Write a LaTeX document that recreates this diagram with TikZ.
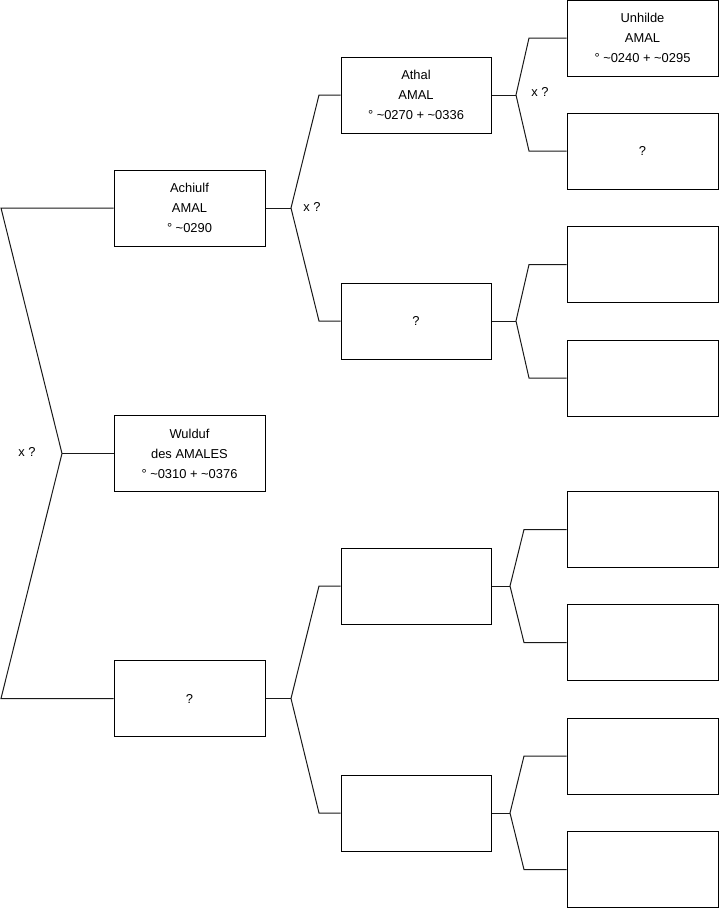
\documentclass[tikz,border=0pt]{standalone}
\usepackage{fontspec}
\setmainfont{Liberation Sans}
\begin{document}
\begin{tikzpicture}[x=1pt,y=-1pt,
  box/.style={draw=black,line width=1pt,minimum width=151pt,minimum height=76pt,inner sep=0pt,align=center,font=\fontsize{12.9}{20}\selectfont},
  conn/.style={draw=black!90,line width=1pt},
  lbl/.style={font=\fontsize{12.9}{20}\selectfont,inner sep=0pt}]
\useasboundingbox (0,0) rectangle (719,908);
% column 1
\node[box] (A) at (189.5,208) {Achiulf\\AMAL\\° \textasciitilde0290};
\node[box] (W) at (189.5,453.5) {Wulduf\\des AMALES\\° \textasciitilde0310 + \textasciitilde0376};
\node[box] (Q) at (189.5,698.5) {?};
% column 2
\node[box,minimum width=150pt] (At) at (416,95) {Athal\\AMAL\\° \textasciitilde0270 + \textasciitilde0336};
\node[box,minimum width=150pt] (Q2) at (416,321) {?};
\node[box,minimum width=150pt] (E1) at (416,586) {};
\node[box,minimum width=150pt] (E2) at (416,813) {};
% column 3
\node[box] (U) at (642.5,38) {Unhilde\\AMAL\\° \textasciitilde0240 + \textasciitilde0295};
\node[box] (R2) at (642.5,151) {?};
\node[box] (R3) at (642.5,264.5) {};
\node[box] (R4) at (642.5,378) {};
\node[box] (R5) at (642.5,529.5) {};
\node[box] (R6) at (642.5,642.5) {};
\node[box] (R7) at (642.5,756) {};
\node[box] (R8) at (642.5,869.5) {};
% left fork
\coordinate (L1) at (1,208);
\coordinate (L2) at (62,453.5);
\coordinate (L3) at (1,698.5);
\draw[conn] (A.west) -- (L1) -- (L2) -- (L3) -- (Q.west);
\draw[conn] (L2) -- (W.west);
\node[lbl] (x1) at (27,452) {x ?};
% fork from A
\coordinate (F1) at (291,208);
\coordinate (F1a) at (319,95);
\coordinate (F1b) at (319,321);
\draw[conn] (A.east) -- (F1);
\draw[conn] (At.west) -- (F1a) -- (F1) -- (F1b) -- (Q2.west);
\node[lbl] (x2) at (312,207) {x ?};
% fork from Q
\coordinate (F4) at (291,698.5);
\coordinate (F4a) at (319,586);
\coordinate (F4b) at (319,813);
\draw[conn] (Q.east) -- (F4);
\draw[conn] (E1.west) -- (F4a) -- (F4) -- (F4b) -- (E2.west);
% fork from Athal
\coordinate (F2) at (516,95);
\coordinate (F2a) at (529,38);
\coordinate (F2b) at (529,151);
\draw[conn] (At.east) -- (F2);
\draw[conn] (U.west) -- (F2a) -- (F2) -- (F2b) -- (R2.west);
\node[lbl] (x3) at (540,92) {x ?};
% fork from Q2
\coordinate (F3) at (516,321);
\coordinate (F3a) at (529,264.5);
\coordinate (F3b) at (529,378);
\draw[conn] (Q2.east) -- (F3);
\draw[conn] (R3.west) -- (F3a) -- (F3) -- (F3b) -- (R4.west);
% fork from E1
\coordinate (F5) at (510,586);
\coordinate (F5a) at (524,529.5);
\coordinate (F5b) at (524,642.5);
\draw[conn] (E1.east) -- (F5);
\draw[conn] (R5.west) -- (F5a) -- (F5) -- (F5b) -- (R6.west);
% fork from E2
\coordinate (F6) at (510,813);
\coordinate (F6a) at (524,756);
\coordinate (F6b) at (524,869.5);
\draw[conn] (E2.east) -- (F6);
\draw[conn] (R7.west) -- (F6a) -- (F6) -- (F6b) -- (R8.west);
\end{tikzpicture}
\end{document}
